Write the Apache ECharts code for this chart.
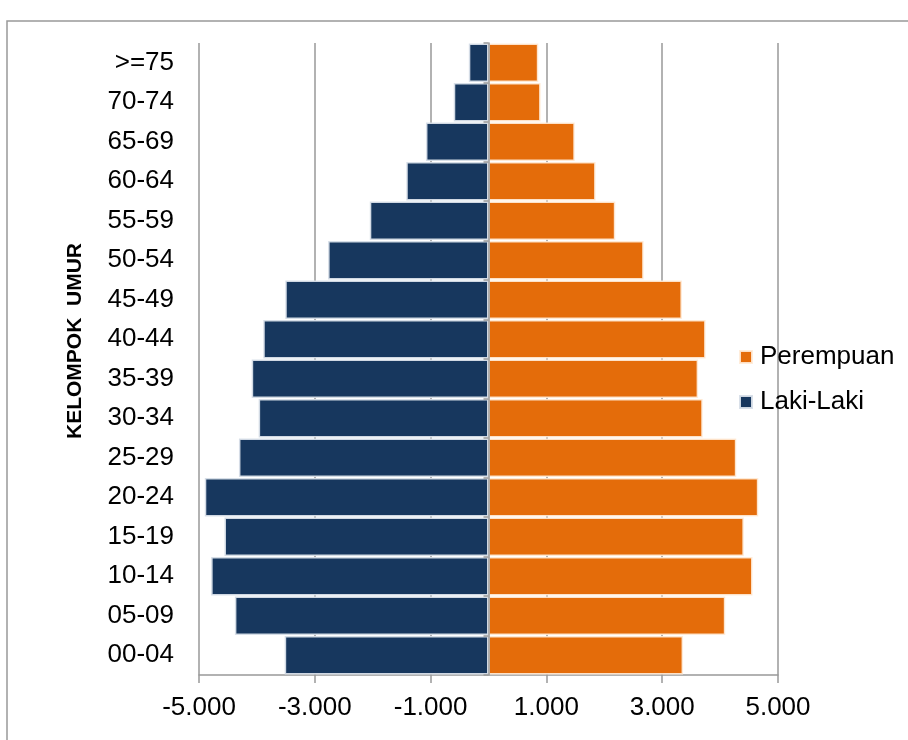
<!DOCTYPE html>
<html>
<head>
<meta charset="utf-8">
<script src="https://cdn.jsdelivr.net/npm/echarts@6/dist/echarts.min.js"></script>
<style>
html,body{margin:0;padding:0;background:#fff;}
#chart{width:908px;height:740px;}
</style>
</head>
<body>
<div id="chart"></div>
<script>
var categories = ['00-04','05-09','10-14','15-19','20-24','25-29','30-34','35-39','40-44','45-49','50-54','55-59','60-64','65-69','70-74','>=75'];
var lakiLaki = [-3520, -4380, -4790, -4560, -4900, -4310, -3970, -4090, -3890, -3510, -2770, -2050, -1420, -1080, -600, -340];
var perempuan = [3360, 4090, 4560, 4410, 4660, 4280, 3700, 3620, 3750, 3340, 2680, 2190, 1850, 1490, 900, 860];
var xTicks = [-5000, -3000, -1000, 1000, 3000, 5000];
var seriesNames = ['Perempuan', 'Laki-Laki'];
var axisTitle = 'KELOMPOK  UMUR';

var FONT = "'Liberation Sans', Arial, sans-serif";
function fmt(v) {
  var s = String(Math.abs(v)).replace(/\B(?=(\d{3})+(?!\d))/g, '.');
  return (v < 0 ? '-' : '') + s;
}

var chart = echarts.init(document.getElementById('chart'), null, {renderer: 'canvas'});
chart.setOption({
  backgroundColor: '#fff',
  animation: false,
  textStyle: {fontFamily: FONT},
  grid: {left: 199, right: 130, top: 43, bottom: 65, containLabel: false},
  legend: {
    data: seriesNames,
    orient: 'vertical',
    left: 739,
    top: 344,
    padding: 0,
    itemWidth: 12,
    itemHeight: 12,
    itemGap: 19,
    icon: 'rect',
    textStyle: {fontSize: 26, color: '#000', fontFamily: FONT, padding: [0, 0, 0, 3]}
  },
  xAxis: {
    type: 'value',
    min: xTicks[0],
    max: xTicks[xTicks.length - 1],
    interval: xTicks[1] - xTicks[0],
    axisLine: {show: true, onZero: false, lineStyle: {color: '#999', width: 1.5}},
    axisTick: {show: true, length: 8, lineStyle: {color: '#999', width: 1.5}},
    splitLine: {show: true, lineStyle: {color: '#999', width: 1.5}},
    axisLabel: {fontSize: 26, color: '#000', margin: 20, fontFamily: FONT, formatter: fmt}
  },
  yAxis: [{
    type: 'category',
    data: categories,
    position: 'left',
    axisLine: {show: false, onZero: false},
    axisTick: {show: false},
    splitLine: {show: false},
    axisLabel: {fontSize: 26, color: '#000', margin: 25, fontFamily: FONT}
  }, {
    type: 'category',
    data: categories,
    position: 'left',
    z: 10,
    axisLine: {show: true, onZero: true, lineStyle: {color: '#999', width: 1.5}},
    axisTick: {show: true, length: 5, lineStyle: {color: '#999', width: 1.5}},
    splitLine: {show: false},
    axisLabel: {show: false}
  }],
  series: [{
    name: seriesNames[0],
    type: 'bar',
    yAxisIndex: 0,
    data: perempuan,
    barGap: '-100%',
    barCategoryGap: '3%',
    itemStyle: {color: '#e46c0a', borderColor: 'rgba(255,235,215,0.9)', borderWidth: 1.5}
  }, {
    name: seriesNames[1],
    type: 'bar',
    yAxisIndex: 0,
    data: lakiLaki,
    barGap: '-100%',
    barCategoryGap: '3%',
    itemStyle: {color: '#17375e', borderColor: 'rgba(215,222,232,0.95)', borderWidth: 1.5}
  }],
  graphic: [{
    type: 'rect',
    silent: true,
    shape: {x: 7, y: 21, width: 1000, height: 1000},
    style: {fill: 'none', stroke: '#999', lineWidth: 1.5}
  }, {
    type: 'text',
    silent: true,
    x: 75,
    y: 341,
    rotation: Math.PI / 2,
    style: {text: axisTitle, font: 'bold 21px ' + FONT, fill: '#000', textAlign: 'center', textVerticalAlign: 'middle'}
  }]
});
</script>
</body>
</html>
